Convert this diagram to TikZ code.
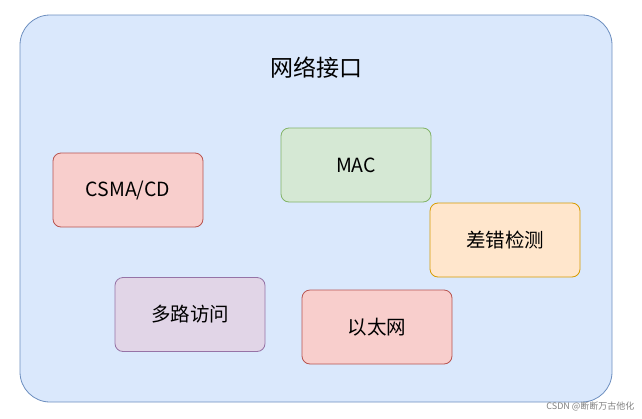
\documentclass[tikz,border=0pt]{standalone}
\usepackage{fontspec}
\setmainfont{Noto Sans CJK SC}
\begin{document}
\begin{tikzpicture}[x=1pt,y=-1pt,
  box/.style={draw,rounded corners=8pt,line width=0.8pt,minimum width=150pt,minimum height=74pt,font=\fontsize{19.5}{22}\selectfont},
  red/.style={fill={rgb,255:red,248;green,206;blue,204},draw={rgb,255:red,184;green,84;blue,80}}]
\useasboundingbox (0,0) rectangle (642,418);
\node[draw={rgb,255:red,108;green,142;blue,191},fill={rgb,255:red,218;green,232;blue,252},rounded corners=30pt,line width=0.8pt,minimum width=592pt,minimum height=387pt] (outer) at (316,208.5) {};
\node[font=\fontsize{23}{26}\selectfont] (title) at (316,68) {网络接口};
\node[box,red] (csma) at (128,190) {CSMA/CD};
\node[box,fill={rgb,255:red,213;green,232;blue,212},draw={rgb,255:red,130;green,179;blue,102}] (mac) at (356,165) {MAC};
\node[box,fill={rgb,255:red,255;green,230;blue,204},draw={rgb,255:red,215;green,155;blue,0}] (err) at (505,240) {差错检测};
\node[box,fill={rgb,255:red,225;green,213;blue,231},draw={rgb,255:red,150;green,115;blue,166}] (multi) at (190,314.5) {多路访问};
\node[box,red] (eth) at (377,327) {以太网};
\node[font=\fontsize{9}{10}\selectfont,text=gray,anchor=east] (wm) at (638,406) {CSDN @断断万古他化};
\end{tikzpicture}
\end{document}
